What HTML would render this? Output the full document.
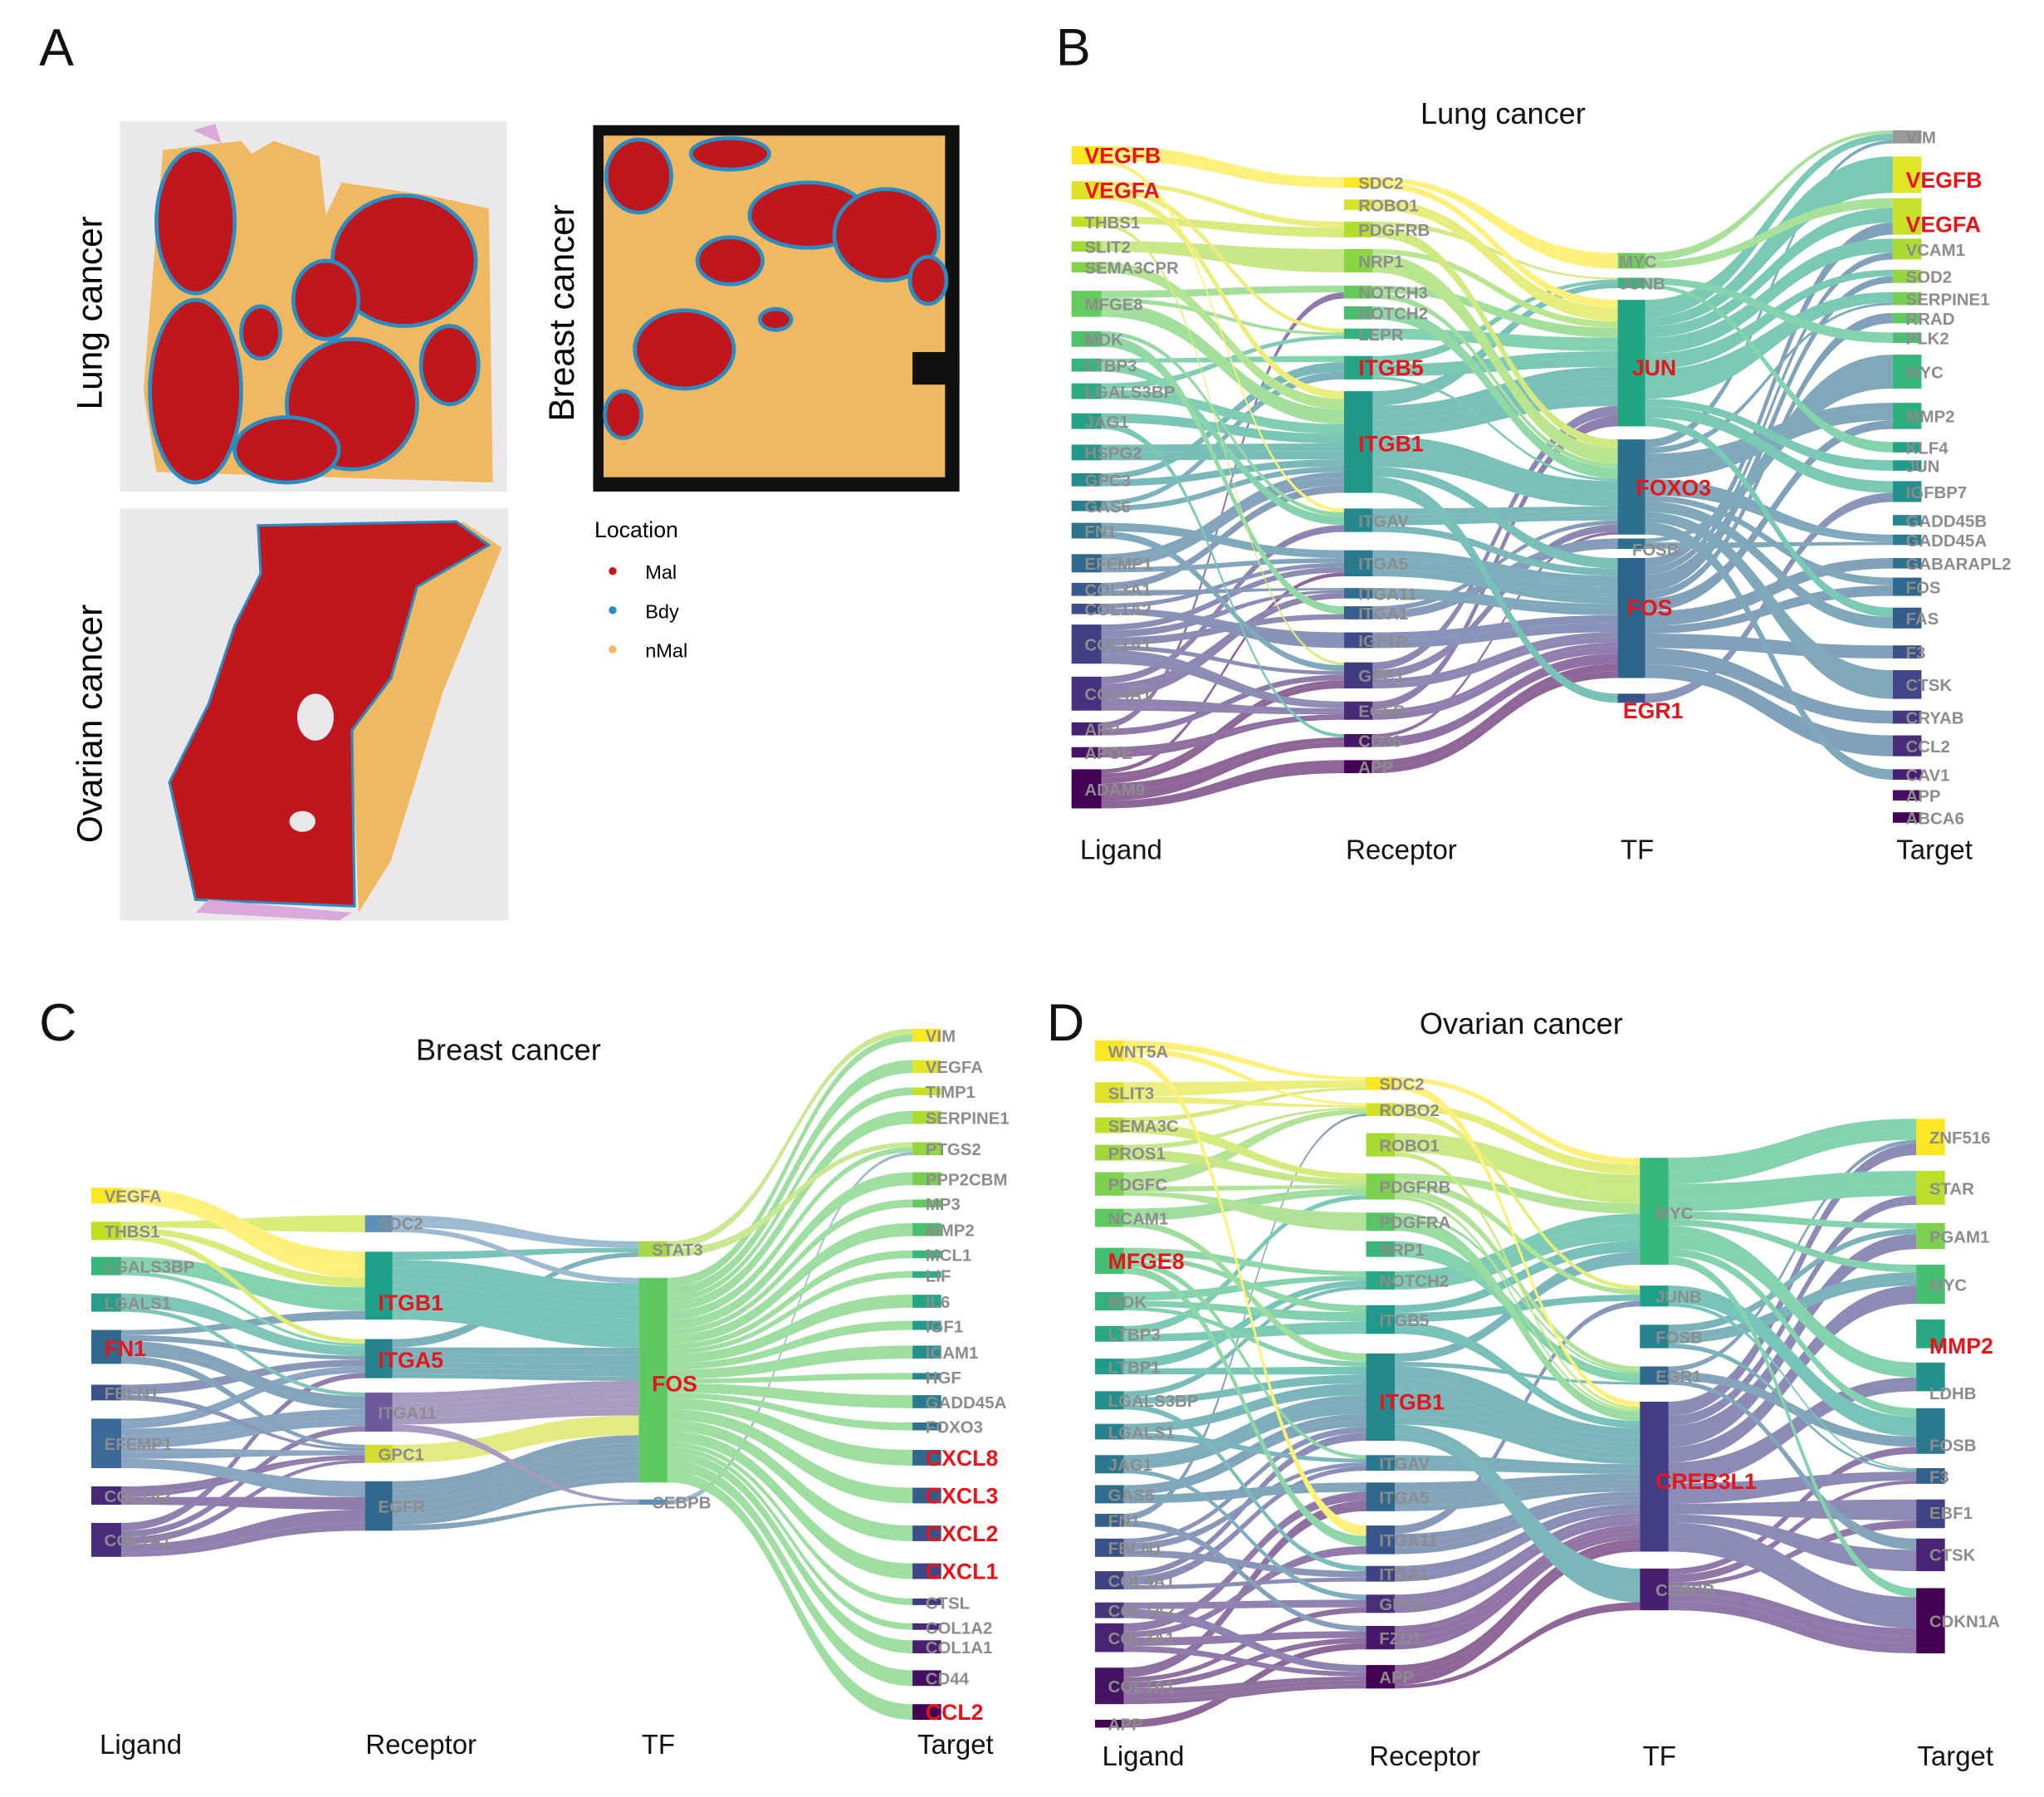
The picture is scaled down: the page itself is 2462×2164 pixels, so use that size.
<!DOCTYPE html>
<html><head><meta charset="utf-8">
<style>
html,body{margin:0;padding:0;background:#fff}
svg{display:block}
text{font-family:"Liberation Sans",sans-serif}
.g{font-size:13px;font-weight:bold;fill:#8c8c8c}
.r{font-size:17px;font-weight:bold;fill:#e8141c}
.c{font-size:21px;fill:#111}
.t{font-size:23px;fill:#111}
.L{font-size:40px;fill:#111}
</style></head><body>
<svg id="s" width="2462" height="2164" viewBox="0 0 1568 1378.2" preserveAspectRatio="none" xmlns="http://www.w3.org/2000/svg">
<rect width="1568" height="1379" fill="#fff"/>
<text x="30" y="50" class="L">A</text>
<text x="810" y="50" class="L">B</text>
<text x="30" y="798" class="L">C</text>
<text x="803" y="798" class="L">D</text>
<text transform="translate(78,240) rotate(-90)" text-anchor="middle" style="font-size:27px">Lung cancer</text>
<text transform="translate(78,555) rotate(-90)" text-anchor="middle" style="font-size:27px">Ovarian cancer</text>
<text transform="translate(440,240) rotate(-90)" text-anchor="middle" style="font-size:27px">Breast cancer</text>
<!-- lung -->
<rect x="92" y="93" width="297" height="284" fill="#ebe8ec"/>
<path d="M148 100 L165 95 L170 110 Z" fill="#d9a9dc"/>
<polygon points="125,115 185,108 193,118 210,108 245,120 250,165 262,140 330,150 375,160 378,370 120,362 110,300 118,200" fill="#f0b860"/>
<g fill="#c0161e" stroke="#2a8cc0" stroke-width="3">
<ellipse cx="150" cy="170" rx="30" ry="55"/>
<ellipse cx="310" cy="200" rx="55" ry="50"/>
<ellipse cx="250" cy="230" rx="25" ry="30"/>
<ellipse cx="150" cy="300" rx="35" ry="70"/>
<ellipse cx="270" cy="310" rx="50" ry="50"/>
<ellipse cx="220" cy="345" rx="40" ry="25"/>
<ellipse cx="345" cy="280" rx="22" ry="30"/>
<ellipse cx="200" cy="255" rx="15" ry="20"/>
</g>
<!-- ovarian -->
<rect x="92" y="390" width="298" height="316" fill="#ebe8ec"/>
<polygon points="300,430 355,400 385,420 340,530 300,660 275,700 270,560 300,520" fill="#f0b860"/>
<polygon points="198,403 350,400 375,418 320,450 300,520 270,560 272,695 150,690 130,600 160,540 180,480 200,440" fill="#c0161e" stroke="#2a8cc0" stroke-width="2"/>
<ellipse cx="242" cy="550" rx="14" ry="18" fill="#ebe8ec"/>
<ellipse cx="232" cy="630" rx="10" ry="8" fill="#ebe8ec"/>
<path d="M160 690 L270 700 L260 706 L150 700 Z" fill="#d9a9dc"/>
<!-- breast -->
<rect x="455" y="96" width="281" height="281" fill="#111"/>
<rect x="463" y="104" width="262" height="262" fill="#f0b860"/>
<rect x="700" y="270" width="36" height="25" fill="#111"/>
<g fill="#c0161e" stroke="#2a8cc0" stroke-width="3">
<ellipse cx="490" cy="135" rx="25" ry="28"/>
<ellipse cx="560" cy="118" rx="30" ry="12"/>
<ellipse cx="620" cy="165" rx="45" ry="25"/>
<ellipse cx="680" cy="180" rx="40" ry="35"/>
<ellipse cx="560" cy="200" rx="25" ry="18"/>
<ellipse cx="525" cy="268" rx="38" ry="30"/>
<ellipse cx="595" cy="245" rx="12" ry="8"/>
<ellipse cx="478" cy="318" rx="14" ry="18"/>
<ellipse cx="712" cy="215" rx="14" ry="18"/>
</g>
<text x="456" y="412" style="font-size:17px">Location</text>
<circle cx="470" cy="438" r="3" fill="#c0161e"/><text x="495" y="444" style="font-size:15px">Mal</text>
<circle cx="470" cy="468" r="3" fill="#2a8cc0"/><text x="495" y="474" style="font-size:15px">Bdy</text>
<circle cx="470" cy="498" r="3" fill="#f0b860"/><text x="495" y="504" style="font-size:15px">nMal</text>

<text x="1153" y="95" class="t" text-anchor="middle">Lung cancer</text>
<text x="390" y="813" class="t" text-anchor="middle">Breast cancer</text>
<text x="1167" y="793" class="t" text-anchor="middle">Ovarian cancer</text>
<text x="860" y="659" class="c" text-anchor="middle">Ligand</text>
<text x="1075" y="659" class="c" text-anchor="middle">Receptor</text>
<text x="1256" y="659" class="c" text-anchor="middle">TF</text>
<text x="1484" y="659" class="c" text-anchor="middle">Target</text>
<text x="108" y="1345" class="c" text-anchor="middle">Ligand</text>
<text x="323" y="1345" class="c" text-anchor="middle">Receptor</text>
<text x="505" y="1345" class="c" text-anchor="middle">TF</text>
<text x="733" y="1345" class="c" text-anchor="middle">Target</text>
<text x="877" y="1354" class="c" text-anchor="middle">Ligand</text>
<text x="1093" y="1354" class="c" text-anchor="middle">Receptor</text>
<text x="1273" y="1354" class="c" text-anchor="middle">TF</text>
<text x="1500" y="1354" class="c" text-anchor="middle">Target</text>

<g id="flows" opacity="0.6"></g>

<!-- B -->
<g id="b1">
<rect x="822" y="112" width="23" height="14"/><rect x="822" y="139" width="23" height="14"/><rect x="822" y="166" width="23" height="8"/><rect x="822" y="185" width="23" height="8"/><rect x="822" y="201" width="23" height="8"/><rect x="822" y="223" width="23" height="20"/><rect x="822" y="254" width="23" height="12"/><rect x="822" y="275" width="23" height="10"/><rect x="822" y="294" width="23" height="12"/><rect x="822" y="317" width="23" height="12"/><rect x="822" y="341" width="23" height="12"/><rect x="822" y="363" width="23" height="10"/><rect x="822" y="384" width="23" height="8"/><rect x="822" y="401" width="23" height="12"/><rect x="822" y="425" width="23" height="14"/><rect x="822" y="447" width="23" height="10"/><rect x="822" y="463" width="23" height="8"/><rect x="822" y="479" width="23" height="30"/><rect x="822" y="519" width="23" height="26"/><rect x="822" y="554" width="23" height="10"/><rect x="822" y="573" width="23" height="8"/><rect x="822" y="590" width="23" height="30"/>
</g>
<g id="b2">
<rect x="1031" y="136" width="22" height="8"/><rect x="1031" y="153" width="22" height="8"/><rect x="1031" y="170" width="22" height="12"/><rect x="1031" y="191" width="22" height="18"/><rect x="1031" y="219" width="22" height="10"/><rect x="1031" y="235" width="22" height="10"/><rect x="1031" y="252" width="22" height="8"/><rect x="1031" y="273" width="22" height="18"/><rect x="1031" y="300" width="22" height="78"/><rect x="1031" y="390" width="22" height="18"/><rect x="1031" y="422" width="22" height="20"/><rect x="1031" y="451" width="22" height="8"/><rect x="1031" y="465" width="22" height="10"/><rect x="1031" y="485" width="22" height="12"/><rect x="1031" y="508" width="22" height="20"/><rect x="1031" y="538" width="22" height="14"/><rect x="1031" y="563" width="22" height="10"/><rect x="1031" y="583" width="22" height="10"/>
</g>
<g id="b3">
<rect x="1241" y="194" width="21" height="12" fill="#6ece58"/><rect x="1241" y="213" width="21" height="8" fill="#35b779"/><rect x="1241" y="230" width="21" height="97" fill="#21a685"/><rect x="1241" y="337" width="21" height="73" fill="#2d6f8e"/><rect x="1241" y="413" width="21" height="8" fill="#2d6f8e"/><rect x="1241" y="428" width="21" height="92" fill="#2c648c"/><rect x="1241" y="532" width="21" height="7" fill="#3b528b"/>
</g>
<g id="b4">
<rect x="1452" y="100" width="22" height="10" fill="#999"/><rect x="1452" y="120" width="22" height="28"/><rect x="1452" y="152" width="22" height="28"/><rect x="1452" y="183" width="22" height="16"/><rect x="1452" y="207" width="22" height="10"/><rect x="1452" y="224" width="22" height="10"/><rect x="1452" y="240" width="22" height="8"/><rect x="1452" y="255" width="22" height="8"/><rect x="1452" y="272" width="22" height="26"/><rect x="1452" y="309" width="22" height="20"/><rect x="1452" y="339" width="22" height="8"/><rect x="1452" y="353" width="22" height="8"/><rect x="1452" y="369" width="22" height="16"/><rect x="1452" y="395" width="22" height="8"/><rect x="1452" y="410" width="22" height="8"/><rect x="1452" y="428" width="22" height="8"/><rect x="1452" y="443" width="22" height="14"/><rect x="1452" y="466" width="22" height="16"/><rect x="1452" y="495" width="22" height="10"/><rect x="1452" y="514" width="22" height="22"/><rect x="1452" y="545" width="22" height="10"/><rect x="1452" y="564" width="22" height="16"/><rect x="1452" y="590" width="22" height="8"/><rect x="1452" y="606" width="22" height="8"/><rect x="1452" y="623" width="22" height="8"/>
</g>
<g>
<text x="832" y="125" class="r">VEGFB</text><text x="832" y="152" class="r">VEGFA</text>
<text x="832" y="175" class="g">THBS1</text><text x="832" y="194" class="g">SLIT2</text><text x="832" y="210" class="g">SEMA3CPR</text><text x="832" y="238" class="g">MFGE8</text><text x="832" y="265" class="g">MDK</text><text x="832" y="285" class="g">LTBP3</text><text x="832" y="305" class="g">LGALS3BP</text><text x="832" y="328" class="g">JAG1</text><text x="832" y="352" class="g">HSPG2</text><text x="832" y="373" class="g">GPC3</text><text x="832" y="393" class="g">GAS6</text><text x="832" y="412" class="g">FN1</text><text x="832" y="437" class="g">EFEMP1</text><text x="832" y="457" class="g">COL3A1</text><text x="832" y="472" class="g">COL1A2</text><text x="832" y="499" class="g">COL1A1</text><text x="832" y="537" class="g">COL4A1</text><text x="832" y="564" class="g">APP</text><text x="832" y="582" class="g">APOE</text><text x="832" y="610" class="g">ADAM9</text>
<text x="1042" y="145" class="g">SDC2</text><text x="1042" y="162" class="g">ROBO1</text><text x="1042" y="181" class="g">PDGFRB</text><text x="1042" y="205" class="g">NRP1</text><text x="1042" y="229" class="g">NOTCH3</text><text x="1042" y="245" class="g">NOTCH2</text><text x="1042" y="261" class="g">LEPR</text><text x="1042" y="288" class="r">ITGB5</text><text x="1042" y="346" class="r">ITGB1</text><text x="1042" y="404" class="g">ITGAV</text><text x="1042" y="437" class="g">ITGA5</text><text x="1042" y="460" class="g">ITGA11</text><text x="1042" y="475" class="g">ITGA1</text><text x="1042" y="496" class="g">IGF1R</text><text x="1042" y="523" class="g">GPC1</text><text x="1042" y="550" class="g">EGFR</text><text x="1042" y="573" class="g">CD36</text><text x="1042" y="593" class="g">APP</text>
<text x="1242" y="205" class="g">MYC</text><text x="1242" y="222" class="g">JUNB</text><text x="1252" y="288" class="r">JUN</text><text x="1255" y="380" class="r">FOXO3</text><text x="1252" y="426" class="g">FOSB</text><text x="1248" y="472" class="r">FOS</text><text x="1245" y="551" class="r">EGR1</text>
<text x="1462" y="110" class="g">VIM</text><text x="1462" y="144" class="r">VEGFB</text><text x="1462" y="178" class="r">VEGFA</text><text x="1462" y="196" class="g">VCAM1</text><text x="1462" y="217" class="g">SOD2</text><text x="1462" y="234" class="g">SERPINE1</text><text x="1462" y="249" class="g">RRAD</text><text x="1462" y="264" class="g">PLK2</text><text x="1462" y="290" class="g">MYC</text><text x="1462" y="324" class="g">MMP2</text><text x="1462" y="348" class="g">KLF4</text><text x="1462" y="362" class="g">JUN</text><text x="1462" y="382" class="g">IGFBP7</text><text x="1462" y="404" class="g">GADD45B</text><text x="1462" y="419" class="g">GADD45A</text><text x="1462" y="437" class="g">GABARAPL2</text><text x="1462" y="455" class="g">FOS</text><text x="1462" y="479" class="g">FAS</text><text x="1462" y="505" class="g">F3</text><text x="1462" y="530" class="g">CTSK</text><text x="1462" y="555" class="g">CRYAB</text><text x="1462" y="577" class="g">CCL2</text><text x="1462" y="599" class="g">CAV1</text><text x="1462" y="615" class="g">APP</text><text x="1462" y="632" class="g">ABCA6</text>
</g>

<!-- C -->
<g id="c1">
<rect x="70" y="911" width="23" height="12" fill="#fde725"/><rect x="70" y="937" width="23" height="14" fill="#c2df23"/><rect x="70" y="964" width="23" height="14" fill="#35b779"/><rect x="70" y="992" width="23" height="14" fill="#2a9d8a"/><rect x="70" y="1020" width="23" height="26" fill="#31688e"/><rect x="70" y="1062" width="23" height="12" fill="#3b528b"/><rect x="70" y="1088" width="23" height="38" fill="#3e6a9a"/><rect x="70" y="1140" width="23" height="14" fill="#482878"/><rect x="70" y="1168" width="23" height="26" fill="#472d7b"/>
</g>
<g id="c2">
<rect x="280" y="932" width="21" height="13" fill="#5b8fb6"/><rect x="280" y="960" width="21" height="52" fill="#1f9e89"/><rect x="280" y="1027" width="21" height="30" fill="#26828e"/><rect x="280" y="1068" width="21" height="30" fill="#6d5a9a"/><rect x="280" y="1108" width="21" height="14" fill="#d4dc30"/><rect x="280" y="1136" width="21" height="38" fill="#31688e"/>
</g>
<g id="c3">
<rect x="490" y="952" width="22" height="12" fill="#a7d84b"/><rect x="490" y="980" width="22" height="157" fill="#5ec962"/><rect x="490" y="1150" width="22" height="4" fill="#5b8fb6"/>
</g>
<g id="c4">
<rect x="700" y="789" width="22" height="10"/><rect x="700" y="813" width="22" height="10"/><rect x="700" y="834" width="22" height="6"/><rect x="700" y="852" width="22" height="10"/><rect x="700" y="876" width="22" height="10"/><rect x="700" y="899" width="22" height="10"/><rect x="700" y="920" width="22" height="6"/><rect x="700" y="938" width="22" height="10"/><rect x="700" y="959" width="22" height="6"/><rect x="700" y="975" width="22" height="5"/><rect x="700" y="993" width="22" height="10"/><rect x="700" y="1013" width="22" height="7"/><rect x="700" y="1032" width="22" height="10"/><rect x="700" y="1053" width="22" height="5"/><rect x="700" y="1070" width="22" height="10"/><rect x="700" y="1091" width="22" height="6"/><rect x="700" y="1112" width="22" height="12"/><rect x="700" y="1141" width="22" height="12"/><rect x="700" y="1170" width="22" height="12"/><rect x="700" y="1199" width="22" height="12"/><rect x="700" y="1226" width="22" height="5"/><rect x="700" y="1245" width="22" height="5"/><rect x="700" y="1258" width="22" height="10"/><rect x="700" y="1281" width="22" height="12"/><rect x="700" y="1307" width="22" height="12"/>
</g>
<g>
<text x="80" y="922" class="g">VEGFA</text><text x="80" y="949" class="g">THBS1</text><text x="80" y="976" class="g">LGALS3BP</text><text x="80" y="1004" class="g">LGALS1</text><text x="80" y="1040" class="r">FN1</text><text x="80" y="1073" class="g">FBLN1</text><text x="80" y="1112" class="g">EFEMP1</text><text x="80" y="1152" class="g">COL1A2</text><text x="80" y="1186" class="g">COL1A1</text>
<text x="290" y="943" class="g">SDC2</text><text x="290" y="1005" class="r">ITGB1</text><text x="290" y="1049" class="r">ITGA5</text><text x="290" y="1088" class="g">ITGA11</text><text x="290" y="1120" class="g">GPC1</text><text x="290" y="1160" class="g">EGFR</text>
<text x="500" y="963" class="g">STAT3</text><text x="500" y="1067" class="r">FOS</text><text x="500" y="1157" class="g">CEBPB</text>
<text x="710" y="799" class="g">VIM</text><text x="710" y="823" class="g">VEGFA</text><text x="710" y="842" class="g">TIMP1</text><text x="710" y="862" class="g">SERPINE1</text><text x="710" y="886" class="g">PTGS2</text><text x="710" y="909" class="g">PPP2CBM</text><text x="710" y="928" class="g">MP3</text><text x="710" y="948" class="g">MMP2</text><text x="710" y="967" class="g">MCL1</text><text x="710" y="983" class="g">LIF</text><text x="710" y="1003" class="g">IL6</text><text x="710" y="1022" class="g">IGF1</text><text x="710" y="1042" class="g">ICAM1</text><text x="710" y="1061" class="g">HGF</text><text x="710" y="1080" class="g">GADD45A</text><text x="710" y="1099" class="g">FOXO3</text><text x="710" y="1124" class="r">CXCL8</text><text x="710" y="1153" class="r">CXCL3</text><text x="710" y="1182" class="r">CXCL2</text><text x="710" y="1211" class="r">CXCL1</text><text x="710" y="1234" class="g">CTSL</text><text x="710" y="1253" class="g">COL1A2</text><text x="710" y="1268" class="g">COL1A1</text><text x="710" y="1292" class="g">CD44</text><text x="710" y="1319" class="r">CCL2</text>
</g>

<!-- D -->
<g id="d1">
<rect x="840" y="798" width="22" height="16"/><rect x="840" y="830" width="22" height="16"/><rect x="840" y="857" width="22" height="12"/><rect x="840" y="878" width="22" height="12"/><rect x="840" y="899" width="22" height="18"/><rect x="840" y="927" width="22" height="14"/><rect x="840" y="957" width="22" height="20"/><rect x="840" y="991" width="22" height="14"/><rect x="840" y="1017" width="22" height="12"/><rect x="840" y="1042" width="22" height="12"/><rect x="840" y="1067" width="22" height="14"/><rect x="840" y="1092" width="22" height="12"/><rect x="840" y="1116" width="22" height="14"/><rect x="840" y="1139" width="22" height="14"/><rect x="840" y="1161" width="22" height="10"/><rect x="840" y="1180" width="22" height="14"/><rect x="840" y="1205" width="22" height="14"/><rect x="840" y="1229" width="22" height="12"/><rect x="840" y="1245" width="22" height="22"/><rect x="840" y="1279" width="22" height="28"/><rect x="840" y="1319" width="22" height="6"/>
</g>
<g id="d2">
<rect x="1048" y="826" width="22" height="10"/><rect x="1048" y="846" width="22" height="10"/><rect x="1048" y="869" width="22" height="18"/><rect x="1048" y="900" width="22" height="20"/><rect x="1048" y="930" width="22" height="14"/><rect x="1048" y="952" width="22" height="12"/><rect x="1048" y="975" width="22" height="14"/><rect x="1048" y="1001" width="22" height="22"/><rect x="1048" y="1038" width="22" height="67"/><rect x="1048" y="1116" width="22" height="12"/><rect x="1048" y="1137" width="22" height="22"/><rect x="1048" y="1170" width="22" height="22"/><rect x="1048" y="1201" width="22" height="12"/><rect x="1048" y="1223" width="22" height="14"/><rect x="1048" y="1247" width="22" height="18"/><rect x="1048" y="1277" width="22" height="18"/>
</g>
<g id="d3">
<rect x="1258" y="888" width="22" height="82" fill="#35b779"/><rect x="1258" y="986" width="22" height="16" fill="#1f9e89"/><rect x="1258" y="1016" width="22" height="18" fill="#26828e"/><rect x="1258" y="1048" width="22" height="14" fill="#31688e"/><rect x="1258" y="1075" width="22" height="115" fill="#433e85"/><rect x="1258" y="1203" width="22" height="32" fill="#481f70"/>
</g>
<g id="d4">
<rect x="1470" y="858" width="22" height="28"/><rect x="1470" y="898" width="22" height="26"/><rect x="1470" y="938" width="22" height="20"/><rect x="1470" y="970" width="22" height="30"/><rect x="1470" y="1012" width="22" height="22"/><rect x="1470" y="1045" width="22" height="22"/><rect x="1470" y="1080" width="22" height="35"/><rect x="1470" y="1126" width="22" height="12"/><rect x="1470" y="1150" width="22" height="22"/><rect x="1470" y="1180" width="22" height="25"/><rect x="1470" y="1218" width="22" height="50"/>
</g>
<g>
<text x="850" y="811" class="g">WNT5A</text><text x="850" y="843" class="g">SLIT3</text><text x="850" y="868" class="g">SEMA3C</text><text x="850" y="889" class="g">PROS1</text><text x="850" y="913" class="g">PDGFC</text><text x="850" y="939" class="g">NCAM1</text><text x="850" y="973" class="r">MFGE8</text><text x="850" y="1003" class="g">MDK</text><text x="850" y="1028" class="g">LTBP3</text><text x="850" y="1053" class="g">LTBP1</text><text x="850" y="1079" class="g">LGALS3BP</text><text x="850" y="1103" class="g">LGALS1</text><text x="850" y="1128" class="g">JAG1</text><text x="850" y="1151" class="g">GAS6</text><text x="850" y="1171" class="g">FN1</text><text x="850" y="1192" class="g">FBLN1</text><text x="850" y="1217" class="g">COL4A1</text><text x="850" y="1240" class="g">COL1A2</text><text x="850" y="1261" class="g">COL3A1</text><text x="850" y="1298" class="g">COL1A1</text><text x="850" y="1327" class="g">APP</text>
<text x="1058" y="836" class="g">SDC2</text><text x="1058" y="856" class="g">ROBO2</text><text x="1058" y="883" class="g">ROBO1</text><text x="1058" y="915" class="g">PDGFRB</text><text x="1058" y="942" class="g">PDGFRA</text><text x="1058" y="963" class="g">NRP1</text><text x="1058" y="987" class="g">NOTCH2</text><text x="1058" y="1017" class="g">ITGB5</text><text x="1058" y="1081" class="r">ITGB1</text><text x="1058" y="1127" class="g">ITGAV</text><text x="1058" y="1153" class="g">ITGA5</text><text x="1058" y="1186" class="g">ITGA11</text><text x="1058" y="1212" class="g">ITGA1</text><text x="1058" y="1235" class="g">GPC1</text><text x="1058" y="1261" class="g">FZD1</text><text x="1058" y="1291" class="g">APP</text>
<text x="1270" y="935" class="g">MYC</text><text x="1270" y="999" class="g">JUNB</text><text x="1270" y="1030" class="g">FOSB</text><text x="1270" y="1060" class="g">EGR1</text><text x="1270" y="1142" class="r">CREB3L1</text><text x="1270" y="1224" class="g">CEBPB</text>
<text x="1480" y="877" class="g">ZNF516</text><text x="1480" y="916" class="g">STAR</text><text x="1480" y="953" class="g">PGAM1</text><text x="1480" y="990" class="g">MYC</text><text x="1480" y="1038" class="r">MMP2</text><text x="1480" y="1073" class="g">LDHB</text><text x="1480" y="1113" class="g">FOSB</text><text x="1480" y="1137" class="g">F3</text><text x="1480" y="1165" class="g">EBF1</text><text x="1480" y="1197" class="g">CTSK</text><text x="1480" y="1248" class="g">CDKN1A</text>
</g>
</svg>
<script>
(function(){
var V=["#fde725","#b5de2b","#6ece58","#35b779","#1f9e89","#26828e","#31688e","#3e4989","#482878","#440154"];
function hx(c){return [parseInt(c.substr(1,2),16),parseInt(c.substr(3,2),16),parseInt(c.substr(5,2),16)];}
function vir(t){t=Math.max(0,Math.min(1,t))*(V.length-1);var i=Math.min(Math.floor(t),V.length-2),f=t-i,a=hx(V[i]),b=hx(V[i+1]);
return "rgb("+a.map(function(v,k){return Math.round(v+(b[k]-v)*f)}).join(",")+")";}
var seed=12345;function rnd(){seed=(seed*16807)%2147483647;return (seed-1)/2147483646;}
function nodes(id){var rs=document.querySelectorAll("#"+id+" rect"),n=rs.length,out=[];
for(var i=0;i<n;i++){var r=rs[i];if(!r.getAttribute("fill"))r.setAttribute("fill",vir(n>1?i/(n-1):0));
out.push({x:+r.getAttribute("x"),y:+r.getAttribute("y"),w:+r.getAttribute("width"),h:+r.getAttribute("height"),f:r.getAttribute("fill")});}
var y0=out[0].y,y1=out[n-1].y+out[n-1].h;out.forEach(function(o){o.rel=(o.y+o.h/2-y0)/(y1-y0);});return out;}
var fl=document.getElementById("flows"),NS="http://www.w3.org/2000/svg";
function pair(A,B,spread,all){var links=[];
A.forEach(function(a,ai){
if(all&&a.h>50){var s=0;B.forEach(function(b){s+=b.h;});B.forEach(function(b,bi){links.push({a:ai,b:bi,w:a.h*b.h/s});});return;}
var k=Math.max(1,Math.min(10,Math.round(a.h/5)));var ws=[],sum=0;
for(var j=0;j<k;j++){var tot=0,wt=B.map(function(b){var d=a.rel-b.rel;var v=(b.h+2)*(Math.exp(-d*d/spread)+0.03);tot+=v;return v;});
var r=rnd()*tot,bi=0;for(;bi<B.length-1;bi++){r-=wt[bi];if(r<=0)break;}var w=0.5+rnd();ws.push([bi,w]);sum+=w;}
ws.forEach(function(p){links.push({a:ai,b:p[0],w:a.h*p[1]/sum});});});
var inc=B.map(function(){return 0});links.forEach(function(l){inc[l.b]+=l.w;});
links.sort(function(p,q){return p.a-q.a||p.b-q.b;});
var so=A.map(function(a){return a.y});links.forEach(function(l){l.y0=so[l.a];so[l.a]+=l.w;l.y1=so[l.a];});
links.sort(function(p,q){return p.b-q.b||p.a-q.a;});
var to=B.map(function(b){return b.y});links.forEach(function(l){var s=B[l.b].h/inc[l.b];var ww=l.w*s;l.t0=to[l.b];to[l.b]+=ww;l.t1=to[l.b];});
links.forEach(function(l){var a=A[l.a],b=B[l.b],x1=a.x+a.w,x2=b.x,m=(x1+x2)/2;
var p=document.createElementNS(NS,"path");
p.setAttribute("d","M"+x1+" "+l.y0+"C"+m+" "+l.y0+" "+m+" "+l.t0+" "+x2+" "+l.t0+"L"+x2+" "+l.t1+"C"+m+" "+l.t1+" "+m+" "+l.y1+" "+x1+" "+l.y1+"Z");
p.setAttribute("fill",a.f);fl.appendChild(p);});}
[["b",0.05],["c",0.08],["d",0.05]].forEach(function(g){var c=[1,2,3,4].map(function(i){return nodes(g[0]+i)});
pair(c[0],c[1],g[1]);pair(c[1],c[2],0.15);pair(c[2],c[3],0.3,g[0]=="c");});
})();
</script>
</body></html>
